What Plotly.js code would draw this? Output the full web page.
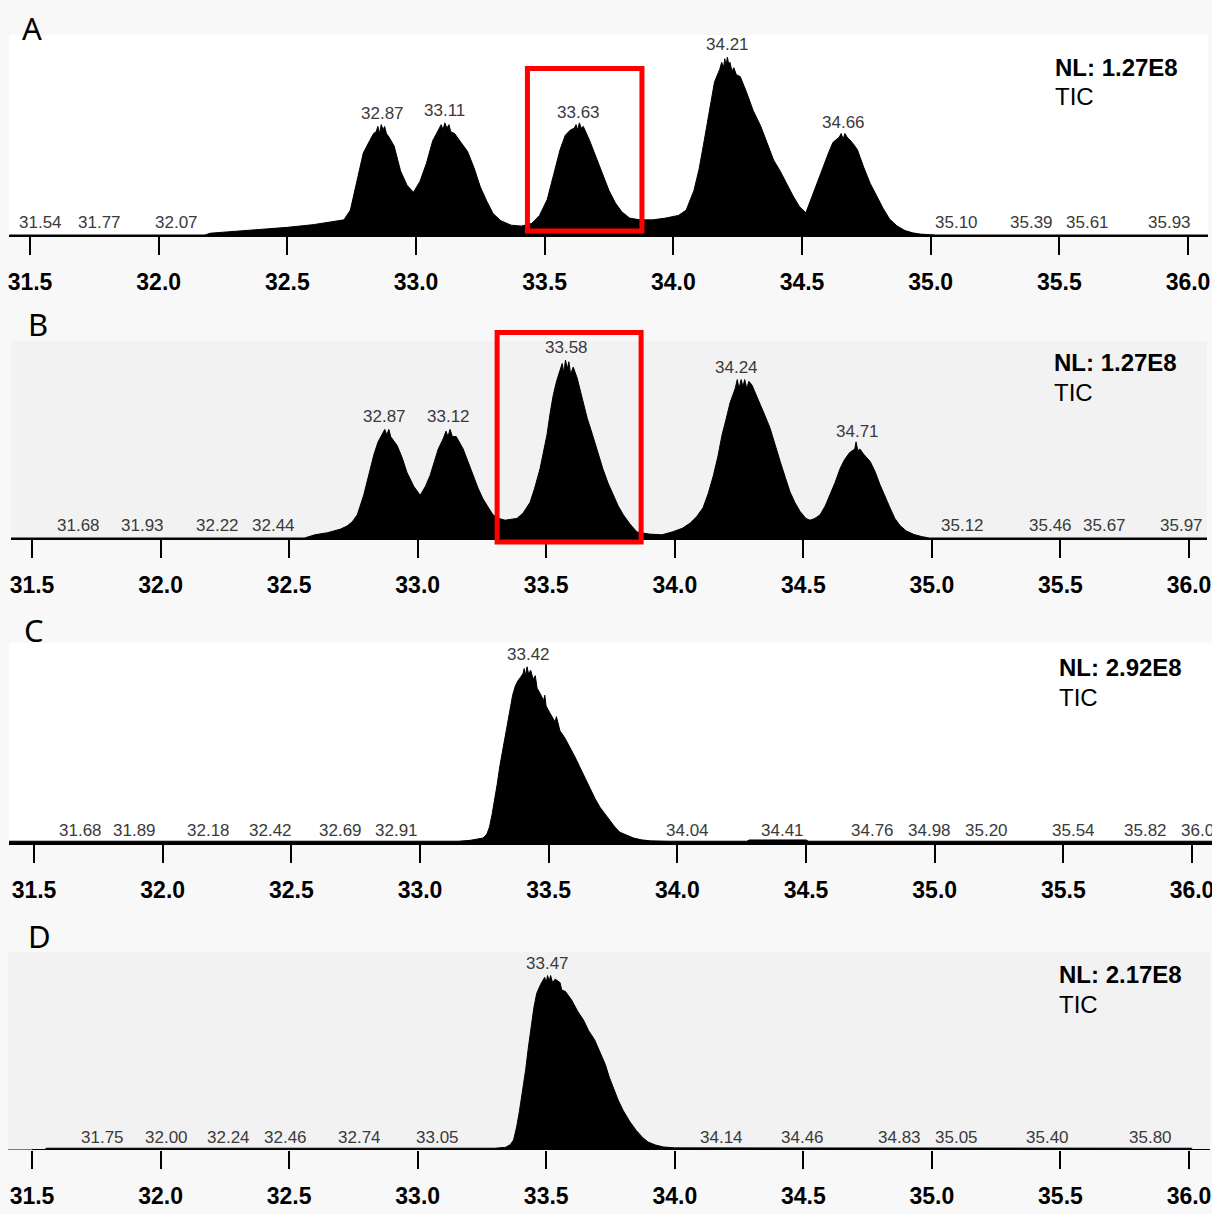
<!DOCTYPE html>
<html><head><meta charset="utf-8">
<script src="https://cdn.plot.ly/plotly-3.0.1.min.js"></script>
<style>html,body{margin:0;padding:0;background:#f8f8f8;} #chart{width:1212px;height:1214px;}</style>
</head><body><div id="chart"></div>
<script>
// ---------------- DATA (retention time in min, relative abundance in %) ----------------
const tickVals = [31.5, 32.0, 32.5, 33.0, 33.5, 34.0, 34.5, 35.0, 35.5, 36.0];
const panelLetters = ['A', 'B', 'C', 'D'];
const nlValues = ['1.27E8', '1.27E8', '2.92E8', '2.17E8'];
const scanFilter = 'TIC';

// Panel A
const timeA = [31.42, 32.18, 32.20, 32.30, 32.40, 32.50, 32.60, 32.68, 32.72, 32.745, 32.77, 32.795, 32.82, 32.835, 32.845, 32.852, 32.858, 32.865, 32.872, 32.878, 32.885, 32.895, 32.915, 32.94, 32.965, 32.99, 33.015, 33.04, 33.065, 33.08, 33.09, 33.098, 33.105, 33.112, 33.12, 33.128, 33.135, 33.15, 33.175, 33.20, 33.225, 33.25, 33.275, 33.30, 33.33, 33.37, 33.41, 33.45, 33.48, 33.51, 33.535, 33.56, 33.58, 33.60, 33.615, 33.622, 33.628, 33.635, 33.642, 33.65, 33.675, 33.70, 33.725, 33.75, 33.775, 33.80, 33.83, 33.87, 33.92, 33.97, 34.02, 34.05, 34.08, 34.10, 34.12, 34.14, 34.16, 34.18, 34.188, 34.195, 34.20, 34.205, 34.21, 34.215, 34.22, 34.228, 34.235, 34.245, 34.26, 34.285, 34.31, 34.34, 34.365, 34.39, 34.415, 34.44, 34.465, 34.49, 34.515, 34.54, 34.56, 34.58, 34.60, 34.62, 34.645, 34.652, 34.66, 34.667, 34.675, 34.695, 34.715, 34.74, 34.765, 34.79, 34.815, 34.84, 34.87, 34.90, 34.93, 34.96, 34.99, 35.02, 36.08];
const abundA = [0, 0, 1.0, 2.0, 3.0, 4.3, 5.8, 7.5, 8.5, 14, 31, 46, 53, 57, 58, 61, 57, 62, 59, 61, 57, 55, 50, 36, 28, 24, 30, 40, 53, 57, 59, 62, 59, 63, 60, 62, 58, 57, 52, 47, 38, 27, 19, 12, 8, 5.5, 5, 6.5, 11, 20, 34, 48, 56, 59, 60, 62, 59, 63, 60, 61, 53, 44, 34, 25, 18, 13, 9.5, 8.5, 8.5, 9.5, 11, 14, 25, 37, 53, 70, 86, 93, 97, 94, 99, 95, 100, 96, 97, 92, 94, 90, 89, 80, 70, 61, 52, 42, 36, 29, 22, 16, 12.5, 22, 30, 38, 45, 52, 55, 57, 54, 57, 55, 52, 48, 38, 29, 22, 15, 9, 5, 2.5, 1.2, 0.5, 0.2, 0, 0];
const labelsA = ['31.54', '31.77', '32.07', '32.87', '33.11', '33.63', '34.21', '34.66', '35.10', '35.39', '35.61', '35.93'];
const labelHA = [0, 0, 0, 61, 63, 62, 100, 56, 0, 0, 0, 0];

// Panel B
const timeB = [31.418, 32.56, 32.60, 32.65, 32.70, 32.725, 32.745, 32.765, 32.79, 32.815, 32.83, 32.846, 32.865, 32.872, 32.88, 32.888, 32.895, 32.92, 32.94, 32.958, 32.985, 33.01, 33.03, 33.048, 33.065, 33.08, 33.10, 33.11, 33.118, 33.126, 33.135, 33.15, 33.177, 33.195, 33.215, 33.235, 33.254, 33.275, 33.293, 33.315, 33.34, 33.386, 33.41, 33.437, 33.455, 33.476, 33.49, 33.503, 33.515, 33.527, 33.54, 33.555, 33.562, 33.568, 33.575, 33.582, 33.588, 33.595, 33.605, 33.62, 33.643, 33.66, 33.68, 33.70, 33.72, 33.74, 33.76, 33.78, 33.80, 33.825, 33.853, 33.90, 33.95, 33.99, 34.03, 34.06, 34.085, 34.11, 34.13, 34.15, 34.168, 34.184, 34.20, 34.215, 34.235, 34.243, 34.25, 34.258, 34.265, 34.272, 34.28, 34.288, 34.30, 34.312, 34.332, 34.35, 34.37, 34.39, 34.41, 34.43, 34.448, 34.467, 34.487, 34.51, 34.526, 34.545, 34.565, 34.585, 34.604, 34.623, 34.643, 34.66, 34.68, 34.70, 34.705, 34.712, 34.72, 34.735, 34.76, 34.78, 34.798, 34.818, 34.837, 34.856, 34.876, 34.90, 34.93, 34.96, 34.99, 36.07];
const abundB = [0, 0, 1.8, 3, 5, 6.7, 9, 13, 24, 39, 47, 54, 59, 61, 58, 61, 57, 52, 45, 37, 29, 24, 29, 35, 43, 50, 56, 60, 57, 61, 57, 57, 50, 43, 35, 28, 22, 17, 13, 11, 10, 11, 14, 20, 28, 39, 48, 58, 70, 80, 88, 95, 98, 93, 100, 95, 99, 92, 96, 90, 76, 67, 58, 48, 39, 31, 24, 18, 13, 8, 3.4, 2.2, 1.8, 3.4, 5.5, 8.4, 12, 17, 25, 35, 46, 58, 67, 76, 84, 89, 84, 89, 85, 89, 84, 88, 86, 82, 76, 69, 62, 52, 43, 34, 26, 20, 15, 11, 10, 11, 13, 18, 24, 31, 39, 44, 48, 50, 54, 49, 50, 47, 43, 37, 30, 23, 17, 11, 7, 4, 2, 0.8, 0, 0];
const labelsB = ['31.68', '31.93', '32.22', '32.44', '32.87', '33.12', '33.58', '34.24', '34.71', '35.12', '35.46', '35.67', '35.97'];
const labelHB = [0, 0, 0, 0, 61, 61, 100, 89, 53, 0, 0, 0, 0];

// Panel C
const timeC = [31.40, 33.15, 33.195, 33.22, 33.245, 33.26, 33.27, 33.28, 33.29, 33.30, 33.31, 33.32, 33.33, 33.34, 33.35, 33.36, 33.37, 33.38, 33.39, 33.40, 33.405, 33.41, 33.416, 33.422, 33.43, 33.44, 33.448, 33.455, 33.467, 33.48, 33.485, 33.49, 33.505, 33.525, 33.53, 33.544, 33.563, 33.583, 33.60, 33.62, 33.64, 33.66, 33.68, 33.70, 33.72, 33.74, 33.757, 33.777, 33.80, 33.83, 33.86, 33.894, 33.97, 34.27, 34.28, 34.50, 34.51, 36.08];
const abundC = [1.0, 1.0, 1.5, 2, 2.8, 5, 9, 16, 24, 33, 43, 51, 58, 67, 76, 83, 88, 91, 93, 95, 98, 94, 99, 95, 97, 92, 94, 87, 84, 80, 83, 77, 73, 68, 71, 63, 59, 54, 49, 43, 37, 31, 25, 20, 16, 12, 9, 6, 4.5, 2.8, 1.8, 1.2, 1.0, 1.0, 1.7, 1.7, 1.0, 1.0];
const labelsC = ['31.68', '31.89', '32.18', '32.42', '32.69', '32.91', '33.42', '34.04', '34.41', '34.76', '34.98', '35.20', '35.54', '35.82', '36.04'];
const labelHC = [0, 0, 0, 0, 0, 0, 99, 0, 0, 0, 0, 0, 0, 0, 0];

// Panel D
const timeD = [31.407, 31.55, 31.555, 33.30, 33.342, 33.36, 33.373, 33.385, 33.396, 33.408, 33.42, 33.43, 33.44, 33.452, 33.463, 33.478, 33.494, 33.50, 33.505, 33.512, 33.517, 33.525, 33.535, 33.554, 33.56, 33.575, 33.60, 33.622, 33.645, 33.665, 33.688, 33.71, 33.73, 33.745, 33.76, 33.78, 33.80, 33.825, 33.85, 33.875, 33.896, 33.925, 33.956, 34.00, 36.01, 36.015, 36.08];
const abundD = [0, 0, 1.0, 1.0, 1.5, 3, 5.6, 13, 22, 33, 45, 57, 69, 80, 88, 93, 97, 94, 98, 95, 98, 94, 96, 94, 90, 89, 84, 78, 73, 67, 62, 55, 48, 41, 35, 28, 22, 16, 11, 7, 4.5, 2.8, 1.7, 1.2, 1.0, 0, 0];
const labelsD = ['31.75', '32.00', '32.24', '32.46', '32.74', '33.05', '33.47', '34.14', '34.46', '34.83', '35.05', '35.40', '35.80'];
const labelPosD = [31.776, 32.025, 32.266, 32.487, 32.773, 33.078, 33.505, 34.18, 34.497, 34.875, 35.095, 35.449, 35.849];
const labelHD = [0, 0, 0, 0, 0, 0, 98, 0, 0, 0, 0, 0, 0];

// Highlighted retention-time windows (red boxes) in panels A and B
const boxA = [33.433, 33.878];
const boxB = [33.309, 33.869];

// ---------------- LAYOUT ----------------
const W = 1212, H = 1214;
const fx = p => p / W;
const fy = p => 1 - p / H;

const geom = [
  {x0: 9,  x1: 1208, top: 35,  base: 235,  t0: 30, t1: 1188, bg: '#ffffff', letterX: 20, letterY: 28,  nlY: 67,  nlX: 1053},
  {x0: 11, x1: 1207, top: 341, base: 538,  t0: 32, t1: 1189, bg: '#f2f2f2', letterX: 26, letterY: 324, nlY: 362, nlX: 1052},
  {x0: 9,  x1: 1212, top: 643, base: 843,  t0: 34, t1: 1192, bg: '#ffffff', letterX: 22, letterY: 630, nlY: 667, nlX: 1057},
  {x0: 8,  x1: 1210, top: 952, base: 1150, t0: 32, t1: 1189, bg: '#f2f2f2', letterX: 26, letterY: 936, nlY: 974, nlX: 1057}
];

const series = [
  {t: timeA, a: abundA, lab: labelsA, pos: labelsA.map(Number), h: labelHA},
  {t: timeB, a: abundB, lab: labelsB, pos: labelsB.map(Number), h: labelHB},
  {t: timeC, a: abundC, lab: labelsC, pos: labelsC.map(Number), h: labelHC},
  {t: timeD, a: abundD, lab: labelsD, pos: labelPosD, h: labelHD}
];

const layout = {
  width: W, height: H,
  margin: {l: 0, r: 0, t: 0, b: 0, pad: 0},
  paper_bgcolor: '#f8f8f8',
  plot_bgcolor: 'rgba(0,0,0,0)',
  showlegend: false,
  shapes: [],
  annotations: []
};
const traces = [];

geom.forEach((g, i) => {
  const n = i === 0 ? '' : String(i + 1);
  const ppu = (g.t1 - g.t0) / 4.5;
  const r0 = 31.5 - (g.t0 - g.x0) / ppu;
  const r1 = 36.0 + (g.x1 - g.t1) / ppu;
  const yMax = (g.base - g.top) / 1.78;
  layout['xaxis' + n] = {
    domain: [fx(g.x0), fx(g.x1)],
    range: [r0, r1],
    anchor: 'y' + n,
    tickvals: tickVals,
    ticktext: tickVals.map(v => v.toFixed(1)),
    ticks: 'outside', ticklen: 18, tickwidth: 2, tickcolor: '#000',
    ticklabelstandoff: 7,
    ticklabeloverflow: 'allow',
    showline: i !== 3, linecolor: '#000', linewidth: 2,
    showgrid: false, zeroline: false, fixedrange: true,
    tickfont: {family: 'Liberation Sans, Arial, sans-serif', size: 23, color: '#000', weight: 700}
  };
  layout['yaxis' + n] = {
    domain: [fy(g.base), fy(g.top)],
    range: [0, yMax],
    anchor: 'x' + n,
    visible: false, fixedrange: true
  };
  // panel background
  layout.shapes.push({type: 'rect', xref: 'paper', yref: 'paper', layer: 'below',
    x0: fx(g.x0), x1: fx(g.x1), y0: fy(g.base), y1: fy(g.top),
    fillcolor: g.bg, line: {width: 0}});
  const s = series[i];
  traces.push({
    x: s.t, y: s.a, type: 'scatter', mode: 'lines',
    fill: 'tozeroy', fillcolor: '#000', line: {color: '#000', width: 1},
    xaxis: 'x' + n, yaxis: 'y' + n, hoverinfo: 'skip'
  });
  // peak labels
  s.lab.forEach((txt, k) => {
    layout.annotations.push({
      xref: 'x' + n, yref: 'y' + n, x: s.pos[k], y: s.h[k],
      text: txt, showarrow: false, xanchor: 'center', yanchor: 'middle', yshift: 12.5,
      font: {family: 'Liberation Sans, Arial, sans-serif', size: 17, color: '#3a3a3a'}
    });
  });
  // NL and TIC
  layout.annotations.push({
    xref: 'paper', yref: 'paper', x: fx(g.nlX), y: fy(g.nlY), xanchor: 'left', yanchor: 'middle',
    text: '<b>NL: ' + nlValues[i] + '</b>', showarrow: false,
    font: {family: 'Liberation Sans, Arial, sans-serif', size: 24, color: '#000'}
  });
  layout.annotations.push({
    xref: 'paper', yref: 'paper', x: fx(g.nlX), y: fy(g.nlY + 30), xanchor: 'left', yanchor: 'middle',
    text: scanFilter, showarrow: false,
    font: {family: 'Liberation Sans, Arial, sans-serif', size: 24, color: '#000'}
  });
  // panel letter
  layout.annotations.push({
    xref: 'paper', yref: 'paper', x: fx(g.letterX), y: fy(g.letterY), xanchor: 'left', yanchor: 'middle',
    text: panelLetters[i], showarrow: false,
    font: {family: 'Noto Sans, sans-serif', size: 31, color: '#000'}
  });
});

// D axis line starts at the first tick
layout.shapes.push({type: 'line', xref: 'x4', yref: 'y4', x0: tickVals[0], x1: layout.xaxis4.range[1], y0: 0, y1: 0,
  line: {color: '#000', width: 2}});

// red highlight boxes
layout.shapes.push({type: 'rect', xref: 'x', yref: 'paper', x0: boxA[0], x1: boxA[1],
  y0: fy(231), y1: fy(68.5), line: {color: '#ff0000', width: 5}, fillcolor: 'rgba(0,0,0,0)'});
layout.shapes.push({type: 'rect', xref: 'x2', yref: 'paper', x0: boxB[0], x1: boxB[1],
  y0: fy(542), y1: fy(332.5), line: {color: '#ff0000', width: 5}, fillcolor: 'rgba(0,0,0,0)'});

Plotly.newPlot('chart', traces, layout, {staticPlot: true, displayModeBar: false});
</script></body></html>
